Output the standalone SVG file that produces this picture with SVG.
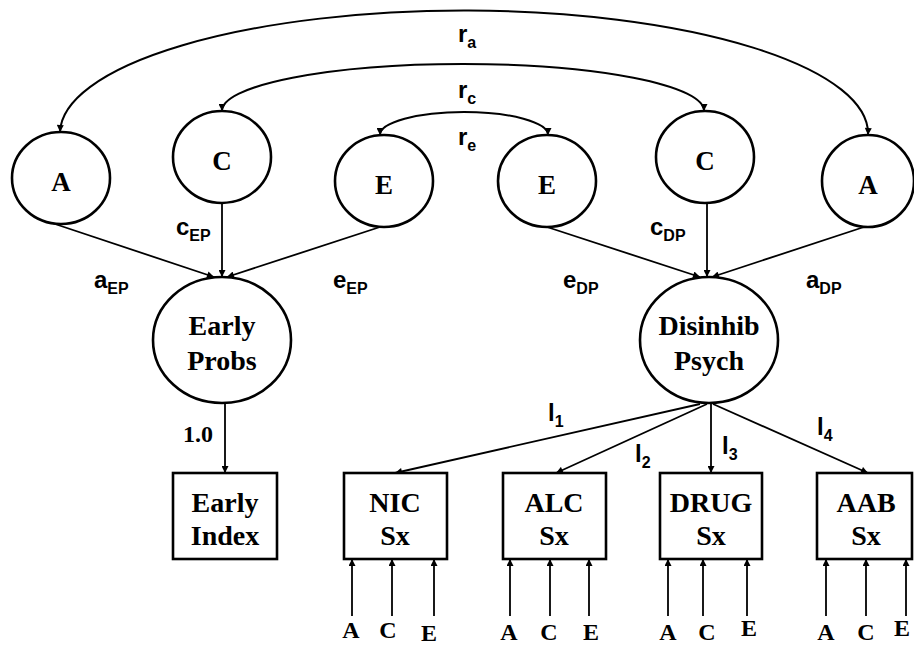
<svg xmlns="http://www.w3.org/2000/svg" width="914" height="648" viewBox="0 0 914 648">
<style>
.node{fill:#fff;stroke:#000;stroke-width:2.6}
.nt{font-family:"Liberation Serif","Times New Roman",serif;font-weight:bold;font-size:28px;text-anchor:middle;fill:#000}
.lt{font-family:"Liberation Serif","Times New Roman",serif;font-weight:bold;font-size:27px;text-anchor:middle;fill:#000}
.bt{font-family:"Liberation Serif","Times New Roman",serif;font-weight:bold;font-size:24px;text-anchor:middle;fill:#000}
.pl{font-family:"Liberation Sans",Arial,sans-serif;font-weight:bold;font-size:24px;fill:#000}
.sub{font-size:16px}
.ln{fill:none;stroke:#000;stroke-width:1.8;marker-end:url(#ah)}
.arc{fill:none;stroke:#000;stroke-width:2;marker-end:url(#ah);marker-start:url(#ah)}
</style>
<defs>
<marker id="ah" viewBox="0 0 10 10" refX="10" refY="5" markerWidth="9" markerHeight="7" orient="auto-start-reverse" markerUnits="userSpaceOnUse">
<path d="M0,0 L10,5 L0,10 z" fill="#000"/>
</marker>
</defs>
<rect width="914" height="648" fill="#fff"/>

<g id="connectors">
<path class="arc" d="M60,132 A404,123 0 0 1 868,135"/>
<path class="arc" d="M222,111 A241,47 0 0 1 704,111"/>
<path class="arc" d="M380,135 A84,23 0 0 1 548,135"/>
<line class="ln" x1="52" y1="223" x2="214" y2="277"/>
<line class="ln" x1="222" y1="203" x2="222" y2="277"/>
<line class="ln" x1="380" y1="227" x2="227" y2="277"/>
<line class="ln" x1="547" y1="227" x2="700" y2="277"/>
<line class="ln" x1="707" y1="203" x2="707" y2="277"/>
<line class="ln" x1="864" y1="227" x2="712" y2="277"/>
<line class="ln" x1="225" y1="404" x2="225" y2="473"/>
<line class="ln" x1="700" y1="404" x2="395" y2="473"/>
<line class="ln" x1="707" y1="404" x2="556" y2="473"/>
<line class="ln" x1="711" y1="404" x2="711" y2="473"/>
<line class="ln" x1="713" y1="404" x2="868" y2="473"/>
<line class="ln" x1="352" y1="616" x2="352" y2="559"/>
<line class="ln" x1="392" y1="616" x2="392" y2="559"/>
<line class="ln" x1="434" y1="616" x2="434" y2="559"/>
<line class="ln" x1="510" y1="616" x2="510" y2="559"/>
<line class="ln" x1="550" y1="616" x2="550" y2="559"/>
<line class="ln" x1="589" y1="616" x2="589" y2="559"/>
<line class="ln" x1="668" y1="616" x2="668" y2="559"/>
<line class="ln" x1="703" y1="616" x2="703" y2="559"/>
<line class="ln" x1="747" y1="616" x2="747" y2="559"/>
<line class="ln" x1="826" y1="616" x2="826" y2="559"/>
<line class="ln" x1="866" y1="616" x2="866" y2="559"/>
<line class="ln" x1="906" y1="616" x2="906" y2="559"/>

<text class="pl" x="458" y="42">r<tspan class="sub" dy="6">a</tspan></text>
<text class="pl" x="458" y="98">r<tspan class="sub" dy="6">c</tspan></text>
<text class="pl" x="458" y="145">r<tspan class="sub" dy="6">e</tspan></text>
<text class="pl" x="176" y="235">c<tspan class="sub" dy="6">EP</tspan></text>
<text class="pl" x="94" y="288">a<tspan class="sub" dy="6">EP</tspan></text>
<text class="pl" x="333" y="288">e<tspan class="sub" dy="6">EP</tspan></text>
<text class="pl" x="650" y="235">c<tspan class="sub" dy="6">DP</tspan></text>
<text class="pl" x="563" y="288">e<tspan class="sub" dy="6">DP</tspan></text>
<text class="pl" x="806" y="288">a<tspan class="sub" dy="6">DP</tspan></text>
<text class="pl" x="548" y="421">l<tspan class="sub" dy="6">1</tspan></text>
<text class="pl" x="635" y="462">l<tspan class="sub" dy="6">2</tspan></text>
<text class="pl" x="722" y="454">l<tspan class="sub" dy="6">3</tspan></text>
<text class="pl" x="817" y="435">l<tspan class="sub" dy="6">4</tspan></text>
<text class="bt" x="198" y="442">1.0</text>
</g>

<g id="A_left"><ellipse class="node" cx="61" cy="178" rx="49" ry="46"/><text class="lt" x="61" y="191">A</text></g>
<g id="C_left"><ellipse class="node" cx="222" cy="157" rx="49" ry="46"/><text class="lt" x="222" y="170">C</text></g>
<g id="E_left"><ellipse class="node" cx="384" cy="181" rx="49" ry="46"/><text class="lt" x="384" y="194">E</text></g>
<g id="E_right"><ellipse class="node" cx="547" cy="181" rx="49" ry="46"/><text class="lt" x="547" y="194">E</text></g>
<g id="C_right"><ellipse class="node" cx="705" cy="157" rx="49" ry="46"/><text class="lt" x="705" y="170">C</text></g>
<g id="A_right"><ellipse class="node" cx="868" cy="181" rx="46" ry="46"/><text class="lt" x="868" y="194">A</text></g>

<g id="early_probs"><ellipse class="node" cx="222" cy="340" rx="69" ry="63"/><text class="nt" x="222" y="335">Early</text><text class="nt" x="222" y="370">Probs</text></g>
<g id="disinhib_psych"><ellipse class="node" cx="709" cy="340" rx="69" ry="63"/><text class="nt" x="709" y="335">Disinhib</text><text class="nt" x="709" y="370">Psych</text></g>

<g id="early_index"><rect class="node" x="173" y="473" width="104" height="86"/><text class="nt" x="225" y="512">Early</text><text class="nt" x="225" y="545">Index</text></g>
<g id="nic_sx"><rect class="node" x="344" y="473" width="103" height="86"/><text class="nt" x="395" y="512">NIC</text><text class="nt" x="395" y="545">Sx</text></g>
<g id="alc_sx"><rect class="node" x="503" y="473" width="103" height="86"/><text class="nt" x="554" y="512">ALC</text><text class="nt" x="554" y="545">Sx</text></g>
<g id="drug_sx"><rect class="node" x="660" y="473" width="102" height="86"/><text class="nt" x="711" y="512">DRUG</text><text class="nt" x="711" y="545">Sx</text></g>
<g id="aab_sx"><rect class="node" x="817" y="473" width="95" height="86"/><text class="nt" x="866" y="512">AAB</text><text class="nt" x="866" y="545">Sx</text></g>

<g id="ace_labels">
<text class="bt" x="351" y="638">A</text><text class="bt" x="388" y="638">C</text><text class="bt" x="429" y="641">E</text>
<text class="bt" x="509" y="640">A</text><text class="bt" x="549" y="640">C</text><text class="bt" x="591" y="640">E</text>
<text class="bt" x="668" y="640">A</text><text class="bt" x="707" y="640">C</text><text class="bt" x="749" y="636">E</text>
<text class="bt" x="826" y="640">A</text><text class="bt" x="866" y="640">C</text><text class="bt" x="902" y="636">E</text>
</g>
</svg>
